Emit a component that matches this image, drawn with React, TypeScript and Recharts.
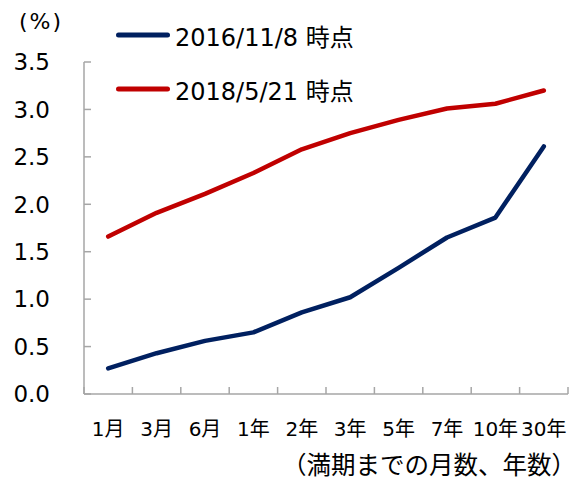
import React from 'react';
import { LineChart, Line, XAxis, YAxis, Legend } from 'recharts';

const maturities = ['1月', '3月', '6月', '1年', '2年', '3年', '5年', '7年', '10年', '30年'];
const yields2016 = [0.27, 0.43, 0.56, 0.65, 0.86, 1.02, 1.33, 1.65, 1.86, 2.61];
const yields2018 = [1.66, 1.91, 2.11, 2.33, 2.58, 2.75, 2.89, 3.01, 3.06, 3.2];
const yTicks = [0, 0.5, 1, 1.5, 2, 2.5, 3, 3.5];
const seriesNames = ['2016/11/8 時点', '2018/5/21 時点'];
const seriesColors = ['#002060', '#C00000'];
const unitLabel = '(%)';
const xTitle = '（満期までの月数、年数）';

const data = maturities.map((m, i) => ({ i, label: m, s2016: yields2016[i], s2018: yields2018[i] }));
const xTicks: number[] = [];
for (let k = -0.5; k <= maturities.length - 0.5 + 1e-9; k += 0.5) xTicks.push(k);

const FONT = '"DejaVu Sans", "Noto Sans CJK JP", sans-serif';
const AXIS = '#a6a6a6';
const X_OFF = 28;
const Y_OFF = 34;

const XTick = (props: any) => {
  const { x, y, payload } = props;
  const v = payload.value;
  if (Math.abs(v - Math.round(v)) < 1e-6) {
    return (
      <text x={x} y={y} dy="0.71em" textAnchor="middle" fontSize={20} fill="#000" fontFamily={FONT}>
        {maturities[Math.round(v)]}
      </text>
    );
  }
  return <line x1={x} x2={x} y1={y - X_OFF} y2={y - X_OFF - 7} stroke={AXIS} strokeWidth={1.5} />;
};

const YTick = (props: any) => {
  const { x, y, payload } = props;
  return (
    <g>
      <text x={x} y={y} dy="0.36em" textAnchor="end" fontSize={23} fill="#000" fontFamily={FONT}>
        {Number(payload.value).toFixed(1)}
      </text>
      <line x1={x + Y_OFF} x2={x + Y_OFF + 7} y1={y} y2={y} stroke={AXIS} strokeWidth={1.5} />
    </g>
  );
};

const renderLegend = (props: any) => {
  const { payload } = props;
  return (
    <div style={{ fontFamily: FONT }}>
      {payload.map((entry: any) => (
        <div key={entry.value} style={{ display: 'flex', alignItems: 'center', height: 54 }}>
          <svg width={54} height={10} style={{ display: 'block' }}>
            <line x1={2.5} x2={51.5} y1={5} y2={5} stroke={entry.color} strokeWidth={5} strokeLinecap="round" />
          </svg>
          <span style={{ marginLeft: 5, fontSize: 24, color: '#000', whiteSpace: 'nowrap' }}>{entry.value}</span>
        </div>
      ))}
    </div>
  );
};

export default function App() {
  return (
    <div style={{ position: 'absolute', left: 0, top: 0, width: 579, height: 477, background: '#fff', fontFamily: FONT, overflow: 'hidden' }}>
      <LineChart width={579} height={477} data={data} margin={{ top: 62, right: 11, left: 0, bottom: 0 }}>
        <XAxis
          type="number"
          dataKey="i"
          domain={[-0.5, maturities.length - 0.5]}
          ticks={xTicks}
          interval={0}
          tickLine={false}
          tickSize={0}
          tickMargin={X_OFF}
          height={83}
          axisLine={{ stroke: AXIS, strokeWidth: 1.5 }}
          tick={<XTick />}
        />
        <YAxis
          domain={[0, 3.5]}
          ticks={yTicks}
          interval={0}
          width={84}
          tickLine={false}
          tickSize={0}
          tickMargin={Y_OFF}
          axisLine={{ stroke: AXIS, strokeWidth: 1.5 }}
          tick={<YTick />}
        />
        <Legend
          layout="horizontal"
          verticalAlign="middle"
          align="center"
          content={renderLegend}
          wrapperStyle={{ top: 8, left: 116, width: 'auto' }}
        />
        <Line name={seriesNames[0]} dataKey="s2016" stroke={seriesColors[0]} strokeWidth={4.5} dot={false} strokeLinejoin="round" strokeLinecap="round" isAnimationActive={false} />
        <Line name={seriesNames[1]} dataKey="s2018" stroke={seriesColors[1]} strokeWidth={4.5} dot={false} strokeLinejoin="round" strokeLinecap="round" isAnimationActive={false} />
      </LineChart>
      <div style={{ position: 'absolute', left: 19, top: 8, fontSize: 22, letterSpacing: 2, lineHeight: '28px', color: '#000' }}>{unitLabel}</div>
      <div style={{ position: 'absolute', right: 3, top: 452, fontSize: 24.5, lineHeight: '28px', color: '#000', whiteSpace: 'nowrap' }}>{xTitle}</div>
    </div>
  );
}
